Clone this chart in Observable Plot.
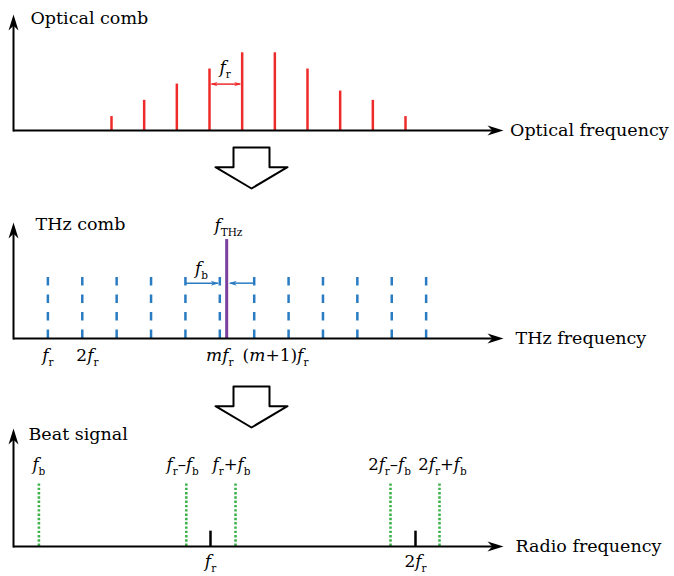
<!DOCTYPE html>
<html><head><meta charset="utf-8">
<script src="https://cdn.jsdelivr.net/npm/d3@7"></script>
<script src="https://cdn.jsdelivr.net/npm/@observablehq/plot@0.6"></script>
<style>
body{margin:0;background:#fff}
#fig{position:relative;width:674px;height:576px;background:#fff;overflow:hidden}
#fig svg{position:absolute;left:0}
#fig svg text{font-family:"DejaVu Serif","Liberation Serif",serif}
</style>
</head><body><div id="fig"></div>
<script>
// ---------- data ----------
// Optical comb: mode index and relative amplitude
const opticalIndex = [3, 4, 5, 6, 7, 8, 9, 10, 11, 12];
const opticalAmp   = [0.12, 0.26, 0.40, 0.53, 0.67, 0.67, 0.53, 0.34, 0.26, 0.12];
const frSpan = [6, 7];

// THz comb: mode index, amplitude, THz wave
const thzIndex = [1, 2, 3, 4, 5, 6, 7, 8, 9, 10, 11, 12];
const thzAmp = 0.528;
const fTHz = 6.2;
const fTHzAmp = 0.853;
const thzTickPos  = [1, 2.15, 6, 7.62];
const thzTickText = ["f_r", "2f_r", "mf_r", "(m+1)f_r"];

// Beat signal (in units of f_r)
const beatX     = [0.127, 0.864, 1.11, 1.885, 2.13];
const beatText  = ["f_b", "f_r–f_b", "f_r+f_b", "2f_r–f_b", "2f_r+f_b"];
const beatLabelX = [0.127, 0.846, 1.09, 1.88, 2.145];
const beatAmp = 0.534;
const repX    = [0.985, 2.01];
const repText = ["f_r", "2f_r"];
const repAmp = 0.13;

// hollow down-arrow glyph (unit coordinates)
const downArrow = [[-0.5,0],[0.5,0],[0.5,0.48],[1,0.48],[0,1],[-1,0.48],[-0.5,0.48]];

// ---------- styles ----------
const RED = "#ee2b2b", BLUE = "#2a7cc2", PURPLE = "#7b3f9e", GREEN = "#3db34a";
const FONT = "DejaVu Serif";
const FS = 17.5;
const MFS = 17;

const stealth = {draw(ctx, size) {
  const s = Math.sqrt(size / Math.PI);
  ctx.moveTo(0, 0); ctx.lineTo(-2*s, -0.62*s); ctx.lineTo(-1.4*s, 0); ctx.lineTo(-2*s, 0.62*s); ctx.closePath();
}};

function axes(xmax, ytop) {
  return [
    Plot.ruleY([0], {x1: 0, x2: xmax * 0.98, stroke: "black", strokeWidth: 2}),
    Plot.ruleX([0], {y1: -0.012, y2: ytop * 0.95, stroke: "black", strokeWidth: 2}),
    Plot.dot([0], {x: xmax, y: 0, symbol: stealth, r: 8, fill: "black", stroke: "none"}),
    Plot.dot([0], {x: 0, y: ytop, symbol: stealth, r: 8, rotate: -90, fill: "black", stroke: "none"})
  ];
}
function word(text, x, y) {
  return Plot.text([text], {x, y, text: d => d, textAnchor: "start", fontSize: FS, fontFamily: FONT, fill: "black"});
}
const common = {
  width: 674, marginLeft: 13, marginRight: 171,
  style: {background: "transparent", overflow: "visible", fontFamily: FONT},
  x: {axis: null}, y: {axis: null, domain: [0, 1]}
};

// ---------- panel 1: optical comb ----------
const p1 = Plot.plot({
  ...common, height: 145, marginTop: 14, marginBottom: 15,
  x: {axis: null, domain: [0, 15]},
  marks: [
    Plot.ruleX(opticalIndex, {x: d => d, y1: 0, y2: (d, i) => opticalAmp[i], stroke: RED, strokeWidth: 2.5}),
    Plot.link([0], {x1: frSpan[0] + 0.06, x2: frSpan[1] - 0.06, y1: 0.40, y2: 0.40, stroke: RED, strokeWidth: 1.5}),
    Plot.dot([0], {x: frSpan[1] - 0.03, y: 0.40, symbol: stealth, r: 3.5, fill: RED, stroke: "none"}),
    Plot.dot([0], {x: frSpan[0] + 0.03, y: 0.40, symbol: stealth, r: 3.5, rotate: 180, fill: RED, stroke: "none"}),
    Plot.text(["f_r"], {x: (frSpan[0] + frSpan[1]) / 2 - 0.02, y: 0.54, text: d => d, fontSize: MFS, fontFamily: FONT}),
    ...axes(15, 1),
    word("Optical comb", 0.52, 0.965),
    word("Optical frequency", 15.2, 0)
  ]
});

// ---------- arrows ----------
function arrowPlot() {
  return Plot.plot({
    width: 674, height: 45, marginTop: 2, marginBottom: 2, marginLeft: 215, marginRight: 387,
    style: {background: "transparent", overflow: "visible"},
    x: {axis: null, domain: [-1, 1]}, y: {axis: null, domain: [1, 0]},
    marks: [Plot.line(downArrow, {x: d => d[0], y: d => d[1], curve: "linear-closed", fill: "white", stroke: "black", strokeWidth: 2})]
  });
}
const a1 = arrowPlot();
const a2 = arrowPlot();

// ---------- panel 2: THz comb ----------
const p2 = Plot.plot({
  ...common, height: 182, marginTop: 32, marginBottom: 34,
  x: {axis: null, domain: [0, 14.25]},
  marks: [
    Plot.ruleX(thzIndex, {x: d => d, y1: 0, y2: thzAmp, stroke: BLUE, strokeWidth: 2.5, strokeDasharray: "8.5,9"}),
    Plot.ruleX([fTHz], {x: d => d, y1: 0, y2: fTHzAmp, stroke: PURPLE, strokeWidth: 3}),
    Plot.link([0], {x1: 5, x2: 5.95, y1: 0.477, y2: 0.477, stroke: BLUE, strokeWidth: 1.5}),
    Plot.dot([0], {x: 5.97, y: 0.477, symbol: stealth, r: 4, fill: BLUE, stroke: "none"}),
    Plot.link([0], {x1: 7, x2: 6.3, y1: 0.477, y2: 0.477, stroke: BLUE, strokeWidth: 1.5}),
    Plot.dot([0], {x: fTHz + 0.06, y: 0.477, symbol: stealth, r: 4, rotate: 180, fill: BLUE, stroke: "none"}),
    Plot.text(["f_b"], {x: 5.47, y: 0.6, text: d => d, fontSize: MFS, fontFamily: FONT}),
    Plot.text(["f_THz"], {x: fTHz + 0.05, y: 0.975, text: d => d, fontSize: MFS, fontFamily: FONT}),
    Plot.text(thzTickText, {x: (d, i) => thzTickPos[i], y: 0, dy: 17, text: d => d, fontSize: MFS, fontFamily: FONT}),
    ...axes(14.25, 1),
    word("THz comb", 0.64, 0.985),
    word("THz frequency", 14.6, 0)
  ]
});

// ---------- panel 3: beat signal ----------
const p3 = Plot.plot({
  ...common, height: 156, marginTop: 8, marginBottom: 30,
  x: {axis: null, domain: [0, 2.45]},
  marks: [
    Plot.ruleX(beatX, {x: d => d, y1: 0, y2: beatAmp, stroke: GREEN, strokeWidth: 2.6, strokeDasharray: "2.4,1.9"}),
    Plot.ruleX(repX, {x: d => d, y1: 0, y2: repAmp, stroke: "black", strokeWidth: 2.5}),
    Plot.text(beatText, {x: (d, i) => beatLabelX[i], y: 0.69, text: d => d, fontSize: MFS - 0.5, fontFamily: FONT}),
    Plot.text(repText, {x: (d, i) => repX[i], y: 0, dy: 15, text: d => d, fontSize: MFS, fontFamily: FONT}),
    ...axes(2.45, 1),
    word("Beat signal", 0.075, 0.95),
    word("Radio frequency", 2.51, 0)
  ]
});

// ---------- math labels: italic f, m and subscripts ----------
function mathify(svg) {
  const NS = "http://www.w3.org/2000/svg";
  svg.querySelectorAll("text").forEach(t => {
    const s = t.textContent;
    if (!s.includes("_")) return;
    t.textContent = "";
    const parts = [];
    let i = 0;
    while (i < s.length) {
      if (s[i] === "_") {
        let j = i + 1;
        while (j < s.length && /[A-Za-z]/.test(s[j])) j++;
        parts.push({t: s.slice(i + 1, j), sub: true});
        i = j;
      } else {
        parts.push({t: s[i], it: /[fm]/.test(s[i])});
        i++;
      }
    }
    const shift = MFS * 0.3;
    let down = false;
    parts.forEach(p => {
      const ts = document.createElementNS(NS, "tspan");
      ts.textContent = p.t;
      if (p.sub) {
        ts.setAttribute("font-size", (MFS * 0.62).toFixed(1));
        if (!down) { ts.setAttribute("dy", shift.toFixed(1)); down = true; }
      } else {
        if (down) { ts.setAttribute("dy", (-shift).toFixed(1)); down = false; }
        if (p.it) ts.setAttribute("font-style", "italic");
      }
      t.appendChild(ts);
    });
  });
}

const fig = document.getElementById("fig");
[[p1, 0], [a1, 145], [p2, 190], [a2, 384], [p3, 420]].forEach(([svg, top]) => {
  svg.style.top = top + "px";
  fig.appendChild(svg);
  mathify(svg);
});
</script>
</body></html>
